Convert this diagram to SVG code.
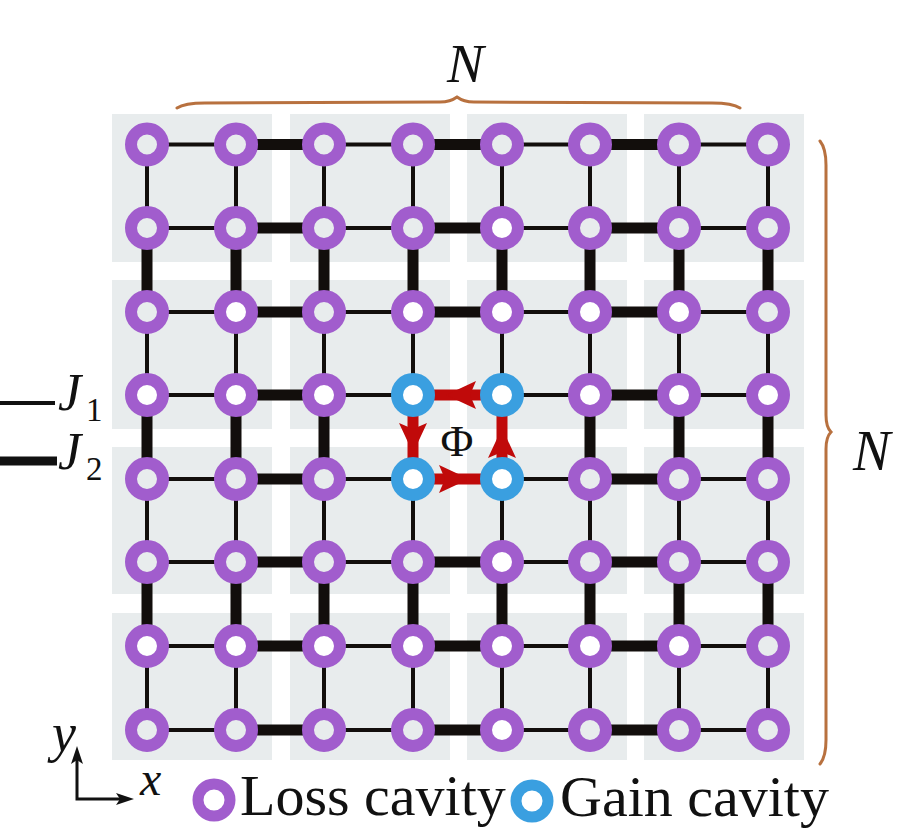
<svg xmlns="http://www.w3.org/2000/svg" width="899" height="835" viewBox="0 0 899 835">
<style>
.blk{fill:#e8eced}
.thin{stroke:#120e0c;stroke-width:4;fill:none}
.thick{stroke:#120e0c;stroke-width:11;fill:none}
.red{stroke:#c00a0a;stroke-width:11;fill:none}
.redh{fill:#c00a0a}
.loss{fill:#e8eced;stroke:#a15dcd;stroke-width:12}
.lossw{fill:#ffffff;stroke:#a15dcd;stroke-width:12}
.gain{fill:#ffffff;stroke:#3a9fe0;stroke-width:12}
.brace{fill:none;stroke:#b8713f;stroke-width:3;stroke-linecap:round}
.ax{stroke:#111;stroke-width:3;fill:none}
</style>
<rect width="899" height="835" fill="#ffffff"/>
<g id="blocks">
<rect class="blk" x="112" y="114" width="160" height="148"/>
<rect class="blk" x="290" y="114" width="160" height="148"/>
<rect class="blk" x="467" y="114" width="160" height="148"/>
<rect class="blk" x="644" y="114" width="160" height="148"/>
<rect class="blk" x="112" y="280" width="160" height="149"/>
<rect class="blk" x="290" y="280" width="160" height="149"/>
<rect class="blk" x="467" y="280" width="160" height="149"/>
<rect class="blk" x="644" y="280" width="160" height="149"/>
<rect class="blk" x="112" y="447" width="160" height="147"/>
<rect class="blk" x="290" y="447" width="160" height="147"/>
<rect class="blk" x="467" y="447" width="160" height="147"/>
<rect class="blk" x="644" y="447" width="160" height="147"/>
<rect class="blk" x="112" y="613" width="160" height="147"/>
<rect class="blk" x="290" y="613" width="160" height="147"/>
<rect class="blk" x="467" y="613" width="160" height="147"/>
<rect class="blk" x="644" y="613" width="160" height="147"/>
</g>
<g id="connectors">
<path class="thin" d="M147 144.5H236M324 144.5H413M502 144.5H590M679 144.5H768
M147 228H236M324 228H413M502 228H590M679 228H768
M147 312H236M324 312H413M502 312H590M679 312H768
M147 395H236M324 395H413M502 395H590M679 395H768
M147 479H236M324 479H413M502 479H590M679 479H768
M147 562H236M324 562H413M502 562H590M679 562H768
M147 646H236M324 646H413M502 646H590M679 646H768
M147 730H236M324 730H413M502 730H590M679 730H768"/>
<path class="thin" d="M147 144.5V228M236 144.5V228M324 144.5V228M413 144.5V228M502 144.5V228M590 144.5V228M679 144.5V228M768 144.5V228
M147 312V395M236 312V395M324 312V395M413 312V395M502 312V395M590 312V395M679 312V395M768 312V395
M147 479V562M236 479V562M324 479V562M413 479V562M502 479V562M590 479V562M679 479V562M768 479V562
M147 646V730M236 646V730M324 646V730M413 646V730M502 646V730M590 646V730M679 646V730M768 646V730"/>
<path class="thick" d="M236 144.5H324M413 144.5H502M590 144.5H679
M236 228H324M413 228H502M590 228H679
M236 312H324M413 312H502M590 312H679
M236 395H324M590 395H679
M236 479H324M590 479H679
M236 562H324M413 562H502M590 562H679
M236 646H324M413 646H502M590 646H679
M236 730H324M413 730H502M590 730H679"/>
<path class="thick" d="M147 228V312M236 228V312M324 228V312M413 228V312M502 228V312M590 228V312M679 228V312M768 228V312
M147 395V479M236 395V479M324 395V479M590 395V479M679 395V479M768 395V479
M147 562V646M236 562V646M324 562V646M413 562V646M502 562V646M590 562V646M679 562V646M768 562V646"/>
<path class="red" d="M413 395H502M413 395V479M413 479H502M502 395V479"/>
<polygon class="redh" points="446,395 476,381 470,395 476,409"/>
<polygon class="redh" points="413,453 399,423 413,429 427,423"/>
<polygon class="redh" points="469,479 439,465 445,479 439,493"/>
<polygon class="redh" points="502,428 488,458 502,452 516,458"/>
</g>
<g id="nodes">
<g id="r0">
<circle class="loss" cx="147" cy="144.5" r="16"/><circle class="loss" cx="236" cy="144.5" r="16"/><circle class="loss" cx="324" cy="144.5" r="16"/><circle class="loss" cx="413" cy="144.5" r="16"/><circle class="loss" cx="502" cy="144.5" r="16"/><circle class="loss" cx="590" cy="144.5" r="16"/><circle class="loss" cx="679" cy="144.5" r="16"/><circle class="loss" cx="768" cy="144.5" r="16"/>
</g>
<g id="r1">
<circle class="loss" cx="147" cy="228" r="16"/><circle class="loss" cx="236" cy="228" r="16"/><circle class="loss" cx="324" cy="228" r="16"/><circle class="loss" cx="413" cy="228" r="16"/><circle class="lossw" cx="502" cy="228" r="16"/><circle class="loss" cx="590" cy="228" r="16"/><circle class="loss" cx="679" cy="228" r="16"/><circle class="loss" cx="768" cy="228" r="16"/>
</g>
<g id="r2">
<circle class="loss" cx="147" cy="312" r="16"/><circle class="lossw" cx="236" cy="312" r="16"/><circle class="loss" cx="324" cy="312" r="16"/><circle class="lossw" cx="413" cy="312" r="16"/><circle class="lossw" cx="502" cy="312" r="16"/><circle class="lossw" cx="590" cy="312" r="16"/><circle class="lossw" cx="679" cy="312" r="16"/><circle class="loss" cx="768" cy="312" r="16"/>
</g>
<g id="r3">
<circle class="lossw" cx="147" cy="395" r="16"/><circle class="lossw" cx="236" cy="395" r="16"/><circle class="lossw" cx="324" cy="395" r="16"/><circle class="gain" cx="413" cy="395" r="16"/><circle class="gain" cx="502" cy="395" r="16"/><circle class="lossw" cx="590" cy="395" r="16"/><circle class="lossw" cx="679" cy="395" r="16"/><circle class="lossw" cx="768" cy="395" r="16"/>
</g>
<g id="r4">
<circle class="loss" cx="147" cy="479" r="16"/><circle class="loss" cx="236" cy="479" r="16"/><circle class="loss" cx="324" cy="479" r="16"/><circle class="gain" cx="413" cy="479" r="16"/><circle class="gain" cx="502" cy="479" r="16"/><circle class="loss" cx="590" cy="479" r="16"/><circle class="loss" cx="679" cy="479" r="16"/><circle class="loss" cx="768" cy="479" r="16"/>
</g>
<g id="r5">
<circle class="loss" cx="147" cy="562" r="16"/><circle class="loss" cx="236" cy="562" r="16"/><circle class="loss" cx="324" cy="562" r="16"/><circle class="loss" cx="413" cy="562" r="16"/><circle class="lossw" cx="502" cy="562" r="16"/><circle class="loss" cx="590" cy="562" r="16"/><circle class="loss" cx="679" cy="562" r="16"/><circle class="loss" cx="768" cy="562" r="16"/>
</g>
<g id="r6">
<circle class="lossw" cx="147" cy="646" r="16"/><circle class="lossw" cx="236" cy="646" r="16"/><circle class="lossw" cx="324" cy="646" r="16"/><circle class="lossw" cx="413" cy="646" r="16"/><circle class="lossw" cx="502" cy="646" r="16"/><circle class="lossw" cx="590" cy="646" r="16"/><circle class="lossw" cx="679" cy="646" r="16"/><circle class="loss" cx="768" cy="646" r="16"/>
</g>
<g id="r7">
<circle class="loss" cx="147" cy="730" r="16"/><circle class="loss" cx="236" cy="730" r="16"/><circle class="loss" cx="324" cy="730" r="16"/><circle class="loss" cx="413" cy="730" r="16"/><circle class="lossw" cx="502" cy="730" r="16"/><circle class="loss" cx="590" cy="730" r="16"/><circle class="loss" cx="679" cy="730" r="16"/><circle class="loss" cx="768" cy="730" r="16"/>
</g>
</g>
<g font-family="Liberation Serif, Tinos, Times New Roman, DejaVu Serif, serif" fill="#111">
<g id="phi"><text x="457" y="456" font-size="45" text-anchor="middle">Φ</text></g>
<g id="brace-top">
<path class="brace" d="M177 108C183 104 192 103 205 103L440 102C448 102 453 100 457 97C461 100 466 102 474 102L712 103C725 103 734 104 740 108"/>
<text x="447" y="82" font-size="55" font-style="italic">N</text>
</g>
<g id="brace-right">
<path class="brace" d="M820 141C824 146 826 152 826 165L826 415C826 424 828 429 831 432C828 435 826 440 826 449L826 740C826 752 824 759 820 764"/>
<text x="853" y="470" font-size="56" font-style="italic">N</text>
</g>
<g id="legend-J">
<line x1="0" y1="403" x2="55" y2="403" stroke="#111" stroke-width="4"/>
<text x="58" y="410" font-size="52" font-style="italic">J</text>
<text x="86" y="421" font-size="33">1</text>
<line x1="0" y1="461" x2="57" y2="461" stroke="#111" stroke-width="9"/>
<text x="58" y="469" font-size="52" font-style="italic">J</text>
<text x="86" y="480" font-size="33">2</text>
</g>
<g id="axes">
<path class="ax" d="M77 760V799H120"/>
<polygon points="77,746 71,764 77,760 83,764" fill="#111"/>
<polygon points="134,799 116,793 120,799 116,805" fill="#111"/>
<text x="52" y="751" font-size="54" font-style="italic">y</text>
<text x="140" y="795" font-size="48" font-style="italic">x</text>
</g>
<g id="legend-cavities">
<circle cx="214" cy="800" r="16" fill="#ffffff" stroke="#a15dcd" stroke-width="11"/>
<text x="240" y="815" font-size="58">Loss cavity</text>
<circle cx="532" cy="801" r="16" fill="#ffffff" stroke="#3a9fe0" stroke-width="11"/>
<text x="560" y="816" font-size="58">Gain cavity</text>
</g>
</g>
</svg>
